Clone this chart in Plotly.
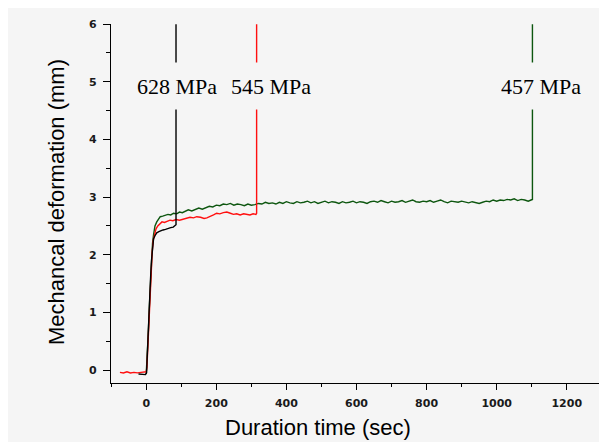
import plotly.graph_objects as go

# ---- data ----
green_t = [0, 3, 6, 9, 12, 15, 18, 21, 25, 30, 35, 40, 47, 55, 62, 70, 78, 87, 95, 103,
           112, 120, 130, 140, 150, 160, 170, 180, 190, 200, 210, 220, 230, 240, 250, 260,
           270, 280, 290, 300, 310, 320, 330, 340, 350, 360, 370, 380, 390, 400, 410, 420,
           430, 440, 450, 460, 470, 480, 490, 500, 510, 520, 530, 540, 550, 560, 570, 580,
           590, 600, 610, 620, 630, 640, 650, 660, 670, 680, 690, 700, 710, 720, 730, 740,
           750, 760, 770, 780, 790, 800, 810, 820, 830, 840, 850, 860, 870, 880, 890, 900,
           910, 920, 930, 940, 950, 960, 970, 980, 990, 1000, 1010, 1020, 1030, 1040, 1050,
           1060, 1070, 1080, 1090, 1098, 1102, 1102]
green_v = [-0.07, 0.2, 0.65, 1.1, 1.55, 1.95, 2.2, 2.35, 2.5, 2.57, 2.62, 2.66, 2.67, 2.69,
           2.70, 2.69, 2.72, 2.71, 2.74, 2.73, 2.76, 2.78, 2.76, 2.79, 2.81, 2.79, 2.82, 2.84,
           2.83, 2.86, 2.85, 2.88, 2.87, 2.89, 2.86, 2.88, 2.87, 2.85, 2.88, 2.86, 2.87, 2.89,
           2.88, 2.91, 2.89, 2.90, 2.88, 2.91, 2.89, 2.92, 2.90, 2.89, 2.92, 2.90, 2.91, 2.93,
           2.90, 2.92, 2.89, 2.91, 2.93, 2.90, 2.92, 2.91, 2.89, 2.92, 2.90, 2.91, 2.93, 2.90,
           2.92, 2.91, 2.89, 2.92, 2.93, 2.91, 2.94, 2.92, 2.90, 2.93, 2.91, 2.92, 2.94, 2.91,
           2.93, 2.95, 2.92, 2.91, 2.93, 2.92, 2.94, 2.91, 2.93, 2.95, 2.92, 2.90, 2.93, 2.92,
           2.91, 2.93, 2.91, 2.90, 2.92, 2.91, 2.89, 2.91, 2.93, 2.92, 2.95, 2.93, 2.95, 2.94,
           2.96, 2.95, 2.97, 2.94, 2.96, 2.95, 2.93, 2.95, 2.96, 6.0]

red_t = [-75, -65, -55, -45, -35, -25, -15, -5, 0, 2, 5, 8, 11, 14, 17, 20, 24, 28, 33, 38,
         45, 52, 60, 68, 76, 85, 95, 105, 116, 125, 135, 144, 155, 165, 173, 182, 192, 201,
         210, 220, 230, 240, 249, 258, 268, 278, 287, 296, 305, 313, 315, 315]
red_v = [-0.04, -0.05, -0.03, -0.05, -0.04, -0.05, -0.04, -0.04, -0.03, 0.05, 0.5, 0.95,
         1.4, 1.8, 2.05, 2.25, 2.35, 2.45, 2.5, 2.53, 2.57, 2.56, 2.58, 2.60, 2.59, 2.61,
         2.60, 2.62, 2.63, 2.65, 2.64, 2.66, 2.65, 2.63, 2.64, 2.66, 2.69, 2.72, 2.71, 2.73,
         2.74, 2.72, 2.70, 2.71, 2.69, 2.71, 2.70, 2.69, 2.71, 2.70, 2.72, 6.0]

black_t = [-22, -15, -8, -2, 1, 3, 6, 9, 12, 15, 18, 21, 25, 30, 36, 42, 48, 55, 62, 70,
           77, 84, 85, 85]
black_v = [-0.07, -0.07, -0.07, -0.08, -0.05, 0.3, 0.7, 1.15, 1.55, 1.9, 2.15, 2.28, 2.33,
           2.38, 2.40, 2.42, 2.43, 2.44, 2.46, 2.47, 2.48, 2.51, 2.52, 6.0]

labels = ["628 MPa", "545 MPa", "457 MPa"]
label_t = [88, 356, 1126]
label_v = [4.92, 4.92, 4.92]

x_ticks = [0, 200, 400, 600, 800, 1000, 1200]
y_ticks = [0, 1, 2, 3, 4, 5, 6]

BG = "#f5f5f5"

fig = go.Figure()
fig.add_trace(go.Scatter(x=green_t, y=green_v, mode="lines",
                         line=dict(color="#0d560f", width=1.4), showlegend=False))
fig.add_trace(go.Scatter(x=red_t, y=red_v, mode="lines",
                         line=dict(color="#ff0f0f", width=1.4), showlegend=False))
fig.add_trace(go.Scatter(x=black_t, y=black_v, mode="lines",
                         line=dict(color="#000000", width=1.4), showlegend=False))

for txt, tx, ty in zip(labels, label_t, label_v):
    fig.add_annotation(x=tx, y=ty, xref="x", yref="y", text=txt, showarrow=False,
                       font=dict(family="Liberation Serif, Times New Roman, serif",
                                 size=22, color="#000000"),
                       bgcolor=BG, height=44, valign="middle",
                       xanchor="center", yanchor="middle")

# axis titles as annotations (placed as in the reference)
fig.add_annotation(x=0.4216, y=-0.1226, xref="paper", yref="paper",
                   text="Duration time (sec)", showarrow=False,
                   font=dict(family="Liberation Sans, Arial, sans-serif", size=22,
                             color="#000000"),
                   xanchor="center", yanchor="middle")
fig.add_annotation(x=-0.112, y=0.504, xref="paper", yref="paper",
                   text="Mechancal deformation (mm)", showarrow=False, textangle=-90,
                   font=dict(family="Liberation Sans, Arial, sans-serif", size=22,
                             color="#000000"),
                   xanchor="center", yanchor="middle")

tickfont = dict(family="DejaVu Sans, Verdana, sans-serif", size=11, color="#1a1a1a",
                weight="bold")

fig.update_xaxes(range=[-100.5, 1300.5], tickmode="array", tickvals=x_ticks,
                 ticktext=[str(v) for v in x_ticks],
                 showline=True, linecolor="black", linewidth=1.3, mirror=False,
                 ticks="outside", ticklen=6, tickwidth=1.2, tickcolor="black",
                 showgrid=False, zeroline=False, tickfont=tickfont,
                 minor=dict(dtick=100, tick0=0, ticks="outside", ticklen=3,
                            tickwidth=1.2, tickcolor="black", showgrid=False),
                 ticklabelstandoff=4)
fig.update_yaxes(range=[-0.225, 6.003], tickmode="array", tickvals=y_ticks,
                 ticktext=[str(v) for v in y_ticks],
                 showline=True, linecolor="black", linewidth=1.3, mirror=False,
                 ticks="outside", ticklen=7, tickwidth=1.2, tickcolor="black",
                 showgrid=False, zeroline=False, tickfont=tickfont,
                 minor=dict(dtick=0.5, tick0=0, ticks="outside", ticklen=4,
                            tickwidth=1.2, tickcolor="black", showgrid=False),
                 ticklabelstandoff=4)

# the page adds an 8 px margin around the figure, so the figure is 8 px smaller
fig.update_layout(width=599, height=434,
                  margin=dict(l=103, r=5, t=16, b=59, pad=0),
                  paper_bgcolor=BG, plot_bgcolor=BG, showlegend=False)

fig.write_html("out.html")
